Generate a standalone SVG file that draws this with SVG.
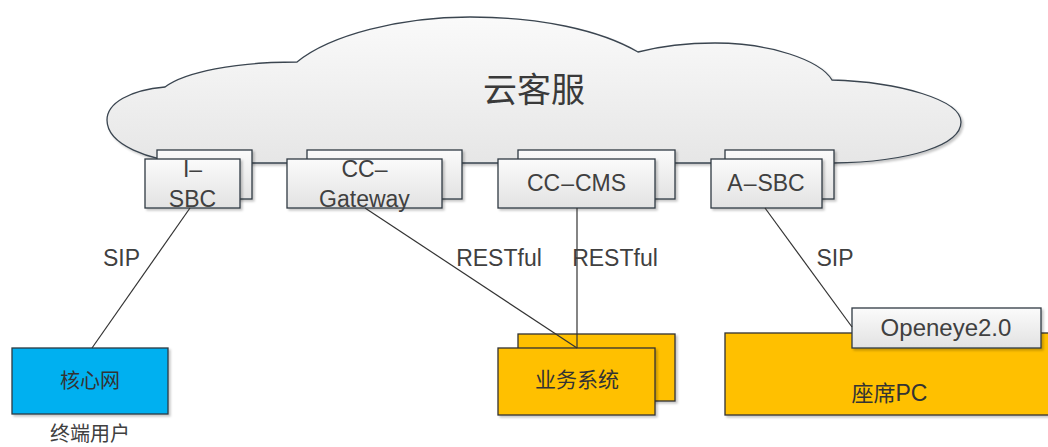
<svg xmlns="http://www.w3.org/2000/svg" width="1048" height="447" viewBox="0 0 1048 447">
<defs>
<linearGradient id="gBox" x1="0" y1="0" x2="0" y2="1">
<stop offset="0" stop-color="#fbfbfb"/>
<stop offset="1" stop-color="#e2e2e2"/>
</linearGradient>
<linearGradient id="gCloud" x1="0" y1="0" x2="0" y2="1">
<stop offset="0" stop-color="#fafafa"/>
<stop offset="1" stop-color="#e6e6e6"/>
</linearGradient>
<filter id="sh" x="-10%" y="-10%" width="130%" height="140%">
<feDropShadow dx="2" dy="2" stdDeviation="1.2" flood-color="#000" flood-opacity="0.22"/>
</filter>
<style>
.box{fill:url(#gBox);stroke:#2f3a44;stroke-width:1.3;filter:url(#sh)}
.yel{fill:#FFC000;stroke:#333;stroke-width:1.3;filter:url(#sh)}
.blue{fill:#00B0F0;stroke:#2b3a44;stroke-width:1.3;filter:url(#sh)}
.t{font-family:"Liberation Sans","Noto Sans CJK SC",sans-serif;font-size:23px;fill:#404040;text-anchor:middle}
.c{font-family:"Noto Sans CJK SC","Liberation Sans",sans-serif;font-size:20px;fill:#333;text-anchor:middle}
.ln{stroke:#333;stroke-width:1.2;fill:none}
</style>
</defs>
<rect width="1048" height="447" fill="#fff"/>

<g id="cloud">
<path d="M 833 163 L 190 163 C 150 161 107 145 107 120 C 107 103 130 90 165 87 C 185 72 235 62 297 62 C 330 35 400 17 470 17 C 540 17 600 30 638 52 C 665 45 690 43 715 43 C 770 43 820 60 832 80 C 900 82 961 100 961 122 C 961 145 910 162 833 163 Z" fill="url(#gCloud)" stroke="#3a4550" stroke-width="1.3" filter="url(#sh)"/>
<text x="534" y="102" style="font-family:'Noto Sans CJK SC',sans-serif;font-size:34px;fill:#3a3a3a;text-anchor:middle">云客服</text>
</g>

<g id="i-sbc">
<rect class="box" x="157" y="150" width="95" height="49"/>
<rect class="box" x="145" y="159" width="95" height="49"/>
<text class="t" x="192.5" y="177">I–</text>
<text class="t" x="192.5" y="207">SBC</text>
</g>

<g id="cc-gateway">
<rect class="box" x="307" y="150" width="155" height="49"/>
<rect class="box" x="287" y="159" width="155" height="49"/>
<text class="t" x="364.5" y="177">CC–</text>
<text class="t" x="364.5" y="207">Gateway</text>
</g>

<g id="cc-cms">
<rect class="box" x="518" y="150" width="157" height="49"/>
<rect class="box" x="498" y="159" width="157" height="49"/>
<text class="t" x="576.5" y="191">CC<tspan dx="1">–</tspan><tspan dx="1">CMS</tspan></text>
</g>

<g id="a-sbc">
<rect class="box" x="725" y="150" width="109" height="49"/>
<rect class="box" x="711" y="159" width="111" height="49"/>
<text class="t" x="766" y="191">A<tspan dx="1">–</tspan><tspan dx="1">SBC</tspan></text>
</g>

<g id="core-net">
<rect class="blue" x="12" y="348" width="156" height="66"/>
<text class="c" x="90" y="388">核心网</text>
<text class="c" x="90" y="441" style="fill:#404040">终端用户</text>
</g>

<g id="biz-system">
<rect class="yel" x="518" y="334" width="157" height="67"/>
<rect class="yel" x="498" y="348" width="157" height="67"/>
<text class="c" x="577" y="387" style="font-size:21px">业务系统</text>
</g>

<g id="agent-pc">
<rect class="yel" x="725" y="333" width="340" height="82"/>
<text class="c" x="889.5" y="401" style="font-size:22px">座席<tspan style="font-family:'Liberation Sans',sans-serif;font-size:23px">PC</tspan></text>
</g>

<g id="openeye">
<rect class="box" x="852" y="308" width="189" height="40"/>
<text class="t" x="946" y="336" style="font-size:24px">Openeye2.0</text>
</g>

<g id="connectors">
<line class="ln" x1="190" y1="208" x2="92" y2="348"/>
<line class="ln" x1="365" y1="208" x2="577" y2="348"/>
<line class="ln" x1="577" y1="208" x2="577" y2="348"/>
<line class="ln" x1="765" y1="208" x2="852" y2="327"/>
<text class="t" x="121.5" y="266">SIP</text>
<text class="t" x="499" y="266">RESTful</text>
<text class="t" x="615" y="266">RESTful</text>
<text class="t" x="835" y="266">SIP</text>
</g>
</svg>
